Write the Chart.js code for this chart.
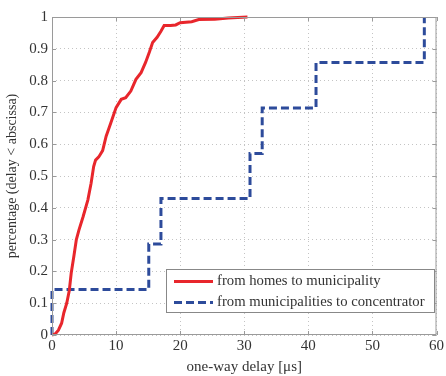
<!DOCTYPE html>
<html><head><meta charset="utf-8">
<script src="https://cdn.jsdelivr.net/npm/chart.js@4/dist/chart.umd.min.js"></script>
<style>html,body{margin:0;padding:0;background:#fff}#wrap{width:446px;height:376px}</style>
</head><body><div id="wrap"><canvas id="c" width="446" height="376"></canvas></div>
<script>
const redDelays = [0, 0.5, 1.0, 1.5, 1.85, 2.3, 2.7, 3.0, 3.4, 3.8, 4.2, 4.85, 5.6, 6.1, 6.5, 6.8, 7.3, 7.9, 8.45, 9.2, 10.0, 10.8, 11.5, 12.3, 13.1, 13.9, 14.6, 15.2, 15.7, 16.4, 17.0, 17.5, 18.5, 19.3, 20.0, 21.8, 22.9, 25.4, 27.5, 30.5];
const redCdf = [0, 0.003, 0.015, 0.037, 0.07, 0.10, 0.14, 0.195, 0.246, 0.30, 0.33, 0.372, 0.425, 0.477, 0.53, 0.55, 0.56, 0.58, 0.625, 0.668, 0.715, 0.741, 0.746, 0.767, 0.804, 0.825, 0.857, 0.89, 0.92, 0.936, 0.955, 0.973, 0.973, 0.975, 0.982, 0.985, 0.992, 0.993, 0.997, 1.0];
const blueDelays = [0, 0, 15.1, 17.0, 30.9, 32.8, 41.2, 58.1];
const blueCdf = [0, 0.143, 0.286, 0.429, 0.571, 0.714, 0.857, 1.0];
const seriesLabels = ['from homes to municipality', 'from municipalities to concentrator'];
const xTitle = 'one-way delay [\u03bcs]';
const yTitle = 'percentage (delay < abscissa)';

const FONT = '"Liberation Serif", "DejaVu Serif", serif';
const TXT = '#333';

const toPts = (xs, ys) => xs.map((x, i) => ({x, y: ys[i]}));

const framePlugin = {
  id: 'frame',
  afterDraw(chart) {
    const {ctx, chartArea: a, scales: {x, y}} = chart;
    ctx.save();
    ctx.strokeStyle = '#9a9a9a';
    ctx.lineWidth = 1;
    ctx.strokeRect(a.left + 0.5, a.top + 0.5, a.right - a.left - 1, a.bottom - a.top - 1);
    ctx.beginPath();
    for (let v = 0; v <= 60; v += 10) {
      const px = Math.round(x.getPixelForValue(v)) + 0.5;
      ctx.moveTo(px, a.bottom); ctx.lineTo(px, a.bottom - 4);
      ctx.moveTo(px, a.top); ctx.lineTo(px, a.top + 4);
    }
    for (let i = 0; i <= 10; i++) {
      const py = Math.round(y.getPixelForValue(i / 10)) + 0.5;
      ctx.moveTo(a.left, py); ctx.lineTo(a.left + 4, py);
      ctx.moveTo(a.right, py); ctx.lineTo(a.right - 4, py);
    }
    ctx.stroke();
    // legend
    const lx = 166, ly = 269, lw = 268, lh = 43;
    ctx.fillStyle = '#fff';
    ctx.fillRect(lx, ly, lw, lh);
    ctx.strokeStyle = '#888';
    ctx.strokeRect(lx + 0.5, ly + 0.5, lw, lh);
    chart.data.datasets.forEach((ds, i) => {
      const yy = ly + 12.5 + i * 21;
      ctx.beginPath();
      ctx.strokeStyle = ds.borderColor;
      ctx.lineWidth = ds.borderWidth;
      ctx.setLineDash(ds.borderDash || []);
      ctx.moveTo(174, yy); ctx.lineTo(213, yy);
      ctx.stroke();
      ctx.setLineDash([]);
      ctx.fillStyle = TXT;
      ctx.font = '14.7px ' + FONT;
      ctx.textBaseline = 'middle';
      ctx.textAlign = 'left';
      ctx.fillText(ds.label, 217, yy);
    });
    ctx.restore();
  }
};

new Chart(document.getElementById('c'), {
  type: 'scatter',
  data: {
    datasets: [
      {label: seriesLabels[0], data: toPts(redDelays, redCdf), showLine: true, borderColor: '#e8262c', borderWidth: 3, pointRadius: 0, tension: 0, clip: 3},
      {label: seriesLabels[1], data: toPts(blueDelays, blueCdf), showLine: true, stepped: 'before', borderColor: '#2d4b9b', borderWidth: 3, borderDash: [8, 4], pointRadius: 0, clip: 3}
    ]
  },
  options: {
    responsive: false,
    animation: false,
    layout: {padding: {left: 0, right: 5, top: 17, bottom: 0}},
    plugins: {legend: {display: false}, tooltip: {enabled: false}},
    scales: {
      x: {
        type: 'linear', min: 0, max: 60,
        ticks: {stepSize: 10, color: TXT, font: {family: FONT, size: 15}, padding: 2},
        grid: {color: '#c4c4c4', drawTicks: false, lineWidth: 1},
        border: {display: false, dash: [1, 3]},
        title: {display: true, text: xTitle, color: TXT, font: {family: FONT, size: 15}, padding: {top: 0, bottom: 0}},
        afterFit(s) { s.height = 41; }
      },
      y: {
        type: 'linear', min: 0, max: 1,
        ticks: {stepSize: 0.1, color: TXT, font: {family: FONT, size: 15}, padding: 4,
          callback: v => (Math.round(v * 10) / 10).toString()},
        grid: {color: '#c4c4c4', drawTicks: false, lineWidth: 1},
        border: {display: false, dash: [1, 3]},
        title: {display: true, text: yTitle, color: TXT, font: {family: FONT, size: 14}, padding: {top: 4, bottom: 0}},
        afterFit(s) { s.width = 52; }
      }
    }
  },
  plugins: [framePlugin]
});
</script></body></html>
